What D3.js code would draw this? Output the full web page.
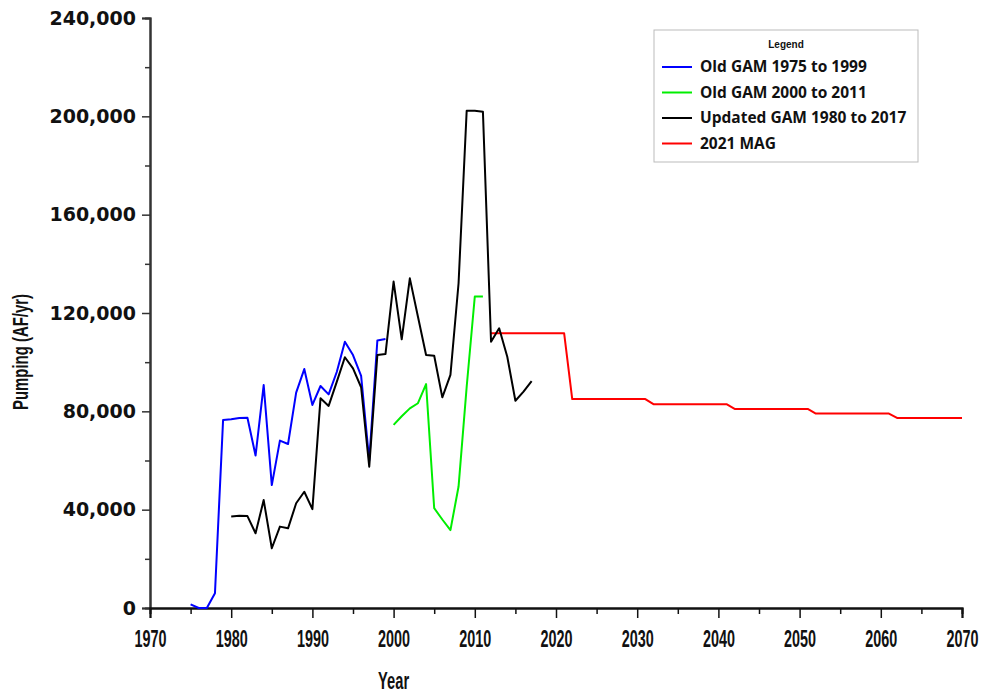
<!DOCTYPE html>
<html>
<head>
<meta charset="utf-8">
<script src="https://cdn.jsdelivr.net/npm/d3@7"></script>
<style>
  body { margin: 0; background: #fff; }
  svg { display: block; }
</style>
</head>
<body>
<div id="content"></div>
<script>
// series values (AF/yr)
const oldGamYears = d3.range(1975, 2000);
const oldGamVals = [1500, 0, 0, 6000, 76500, 76800, 77300, 77400, 62000, 90700, 50000,
  68100, 66700, 87600, 97200, 82600, 90300, 86900, 96000, 108300, 102900, 94400, 60000, 108800, 109400];

const newGamYears = d3.range(2000, 2012);
const newGamVals = [74500, 78000, 81200, 83300, 91100, 40600, 36000, 31700, 49400, 90000, 126700, 126700];

const updYears = d3.range(1980, 2018);
const updVals = [37200, 37500, 37400, 30400, 43900, 24300, 33100, 32400, 42600, 47300, 40200,
  85300, 82200, 92000, 102000, 97500, 89800, 57500, 102900, 103300, 132800, 109300, 134100,
  118500, 102900, 102600, 85700, 94800, 132100, 202300, 202300, 201900, 108300, 113800,
  102200, 84300, 88000, 92300];

const magYears = [2012, 2021, 2022, 2031, 2032, 2041, 2042, 2051, 2052, 2061, 2062, 2070];
const magVals = [111800, 111800, 85000, 85000, 82900, 82900, 81000, 81000, 79100, 79100, 77300, 77300];

const seriesNames = ["Old GAM 1975 to 1999", "Old GAM 2000 to 2011", "Updated GAM 1980 to 2017", "2021 MAG"];
const seriesColors = ["#0000ff", "#00ee00", "#000000", "#ff0000"];

const xTicks = d3.range(1970, 2071, 10);
const yTicks = d3.range(0, 240001, 40000);

const width = 995, height = 696;
const margin = {top: 18, right: 33, bottom: 88, left: 150};

const svg = d3.select("#content").append("svg")
  .attr("width", width).attr("height", height);

const x = d3.scaleLinear().domain([1970, 2070]).range([margin.left, width - margin.right]);
const y = d3.scaleLinear().domain([0, 240000]).range([height - margin.bottom, margin.top]);

// axes
const yAxis = svg.append("g").attr("transform", `translate(${margin.left},0)`)
  .call(d3.axisLeft(y).tickValues(yTicks).tickSize(8).tickPadding(6).tickFormat(d3.format(",")));
yAxis.append("g").call(d3.axisLeft(y).tickValues(d3.range(20000, 240000, 40000)).tickSize(5).tickFormat(""));
yAxis.selectAll(".domain").attr("stroke", "#333").attr("stroke-width", 2);
yAxis.selectAll("line").attr("stroke", "#333").attr("stroke-width", 1.5);
yAxis.selectAll("text")
  .attr("font-family", "DejaVu Sans").attr("font-weight", "bold").attr("font-size", 19).attr("fill", "#111");

const xAxis = svg.append("g").attr("transform", `translate(0,${y(0)})`)
  .call(d3.axisBottom(x).tickValues(xTicks).tickSize(10).tickPadding(12).tickFormat(d3.format("d")));
xAxis.append("g").call(d3.axisBottom(x).tickValues(d3.range(1975, 2070, 10)).tickSize(6).tickFormat(""));
xAxis.selectAll(".domain").attr("stroke", "#111").attr("stroke-width", 2);
xAxis.selectAll("line").attr("stroke", "#111").attr("stroke-width", 1.5);
xAxis.selectAll("text")
  .attr("font-family", "Liberation Sans Narrow, Liberation Sans").attr("font-weight", "bold")
  .attr("font-size", 24).attr("fill", "#111")
  .attr("textLength", 32).attr("lengthAdjust", "spacingAndGlyphs");

// titles
svg.append("text")
  .attr("x", x(2000)).attr("y", 689)
  .attr("text-anchor", "middle")
  .attr("font-family", "Liberation Sans Narrow, Liberation Sans").attr("font-weight", "bold")
  .attr("font-size", 24).attr("fill", "#111")
  .attr("textLength", 31).attr("lengthAdjust", "spacingAndGlyphs")
  .text("Year");

svg.append("text")
  .attr("transform", "translate(28,352) rotate(-90)")
  .attr("text-anchor", "middle")
  .attr("font-family", "Liberation Sans Narrow, Liberation Sans").attr("font-weight", 600)
  .attr("font-size", 22).attr("fill", "#111")
  .attr("textLength", 116).attr("lengthAdjust", "spacingAndGlyphs")
  .text("Pumping (AF/yr)");

// lines
const line = d3.line().x(d => x(d[0])).y(d => y(d[1]));
const series = [
  d3.zip(oldGamYears, oldGamVals),
  d3.zip(newGamYears, newGamVals),
  d3.zip(updYears, updVals),
  d3.zip(magYears, magVals)
];
const drawOrder = [3, 0, 1, 2];
svg.append("g").selectAll("path")
  .data(drawOrder)
  .join("path")
  .attr("d", i => line(series[i]))
  .attr("fill", "none")
  .attr("stroke", i => seriesColors[i])
  .attr("stroke-width", 2)
  .attr("stroke-linejoin", "round");

// legend
const lg = svg.append("g").attr("transform", "translate(654,30)");
lg.append("rect").attr("width", 264).attr("height", 132)
  .attr("fill", "#fff").attr("stroke", "#bbb").attr("stroke-width", 1);
lg.append("text").attr("x", 132).attr("y", 18).attr("text-anchor", "middle")
  .attr("font-family", "Liberation Sans Narrow, Liberation Sans").attr("font-weight", "bold")
  .attr("font-size", 10).attr("fill", "#111").text("Legend");
const items = lg.selectAll(".item").data(seriesNames).join("g")
  .attr("class", "item")
  .attr("transform", (d, i) => `translate(0,${37 + i * 25.5})`);
items.append("line").attr("x1", 8).attr("x2", 38)
  .attr("stroke", (d, i) => seriesColors[i]).attr("stroke-width", 2);
items.append("text").attr("x", 46).attr("dy", "0.35em")
  .attr("font-family", "Open Sans").attr("font-weight", "bold")
  .attr("font-size", 15.5).attr("fill", "#111").text(d => d);
</script>
</body>
</html>
